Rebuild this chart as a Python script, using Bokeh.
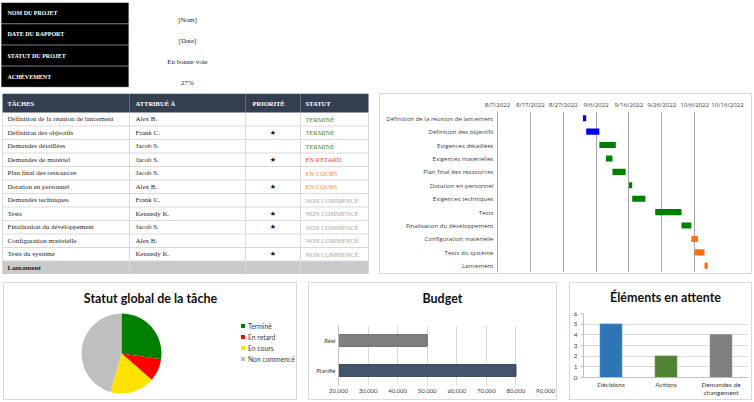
import numpy as np
import pandas as pd
from math import pi
from bokeh.plotting import figure
from bokeh.layouts import column, row
from bokeh.models import (ColumnDataSource, Range1d, FactorRange, FixedTicker, Spacer,
                          NumeralTickFormatter)
from bokeh.core.properties import value
from bokeh.embed import file_html
from bokeh.resources import INLINE

# ---------------- data ----------------
info_labels = ["NOM DU PROJET", "DATE DU RAPPORT", "STATUT DU PROJET", "ACHÈVEMENT"]
info_values = ["[Nom]", "[Date]", "En bonne voie", "27%"]

table_headers = ["TÂCHES", "ATTRIBUÉ À", "PRIORITÉ", "STATUT"]
tasks = ["Définition de la réunion de lancement", "Définition des objectifs",
         "Demandes détaillées", "Demandes de matériel", "Plan final des ressources",
         "Dotation en personnel", "Demandes techniques", "Tests",
         "Finalisation du développement", "Configuration matérielle",
         "Tests du système", "Lancement"]
assignees = ["Alex B.", "Frank C.", "Jacob S.", "Jacob S.", "Jacob S.", "Alex B.",
             "Frank C.", "Kennedy K.", "Jacob S.", "Alex B.", "Kennedy K.", ""]
priority = [False, True, False, True, False, True, False, True, True, False, True, False]
statuses = ["TERMINÉ", "TERMINÉ", "TERMINÉ", "EN RETARD", "EN COURS", "EN COURS",
            "NON COMMENCÉ", "NON COMMENCÉ", "NON COMMENCÉ", "NON COMMENCÉ",
            "NON COMMENCÉ", ""]

gantt_tasks = ["Définition de la réunion de lancement", "Définition des objectifs",
               "Exigences détaillées", "Exigences matérielles", "Plan final des ressources",
               "Dotation en personnel", "Exigences techniques", "Tests",
               "Finalisation du développement", "Configuration matérielle",
               "Tests du système", "Lancement"]
gantt_start = ["2022-09-02", "2022-09-03", "2022-09-07", "2022-09-09", "2022-09-11",
               "2022-09-16", "2022-09-17", "2022-09-24", "2022-10-02", "2022-10-05",
               "2022-10-06", "2022-10-09"]
gantt_days = [1, 4, 5, 2, 4, 1, 4, 8, 3, 2, 3, 1]
gantt_phase = [0, 0, 1, 1, 1, 1, 1, 1, 1, 2, 2, 2]
gantt_ticks = ["2022-08-07", "2022-08-17", "2022-08-27", "2022-09-06", "2022-09-16",
               "2022-09-26", "2022-10-06", "2022-10-16"]
gantt_tick_labels = ["8/7/2022", "8/17/2022", "8/27/2022", "9/6/2022", "9/16/2022",
                     "9/26/2022", "10/6/2022", "10/16/2022"]

pie_title = "Statut global de la tâche"
pie_labels = ["Terminé", "En retard", "En cours", "Non commencé"]
pie_counts = [3, 1, 2, 5]

budget_title = "Budget"
budget_categories = ["Planifié", "Réel"]
budget_values = [80000, 50000]
budget_ticks = [20000, 30000, 40000, 50000, 60000, 70000, 80000, 90000]

pending_title = "Éléments en attente"
pending_categories = ["Décisions", "Actions", "Demandes de\nchangement"]
pending_values = [5, 2, 4]
pending_ticks = [0, 1, 2, 3, 4, 5, 6]

# ---------------- styles ----------------
SERIF = "Liberation Serif"
SANS = "Open Sans"
CHART = "Lato"
BOX = "#d9d9d9"
status_colors = {"TERMINÉ": "#2f9134", "EN RETARD": "#f53b3b", "EN COURS": "#f0913c",
                 "NON COMMENCÉ": "#a6a6a6", "": "#a6a6a6"}
phase_palette = ["#0000f0", "#008000", "#ff6c14"]
pie_palette = ["#008000", "#ff0000", "#ffe300", "#bfbfbf"]
budget_palette = ["#44546a", "#7f7f7f"]
budget_lines = ["#2e3a4a", "#666666"]
pending_palette = ["#2e75b6", "#548235", "#7f7f7f"]


def canvas(w, h, xr, yr, **kw):
    p = figure(width=w, height=h, x_range=xr, y_range=yr, output_backend="svg",
               toolbar_location=None, x_axis_type=None, y_axis_type=None,
               min_border=0, **kw)
    p.outline_line_color = None
    return p


def boxed(content, w, h):
    """Surround a widget of size (w-2, h-2) with a 1px light-grey frame."""
    edge = {"background-color": BOX}
    return column(Spacer(width=w, height=1, styles=edge),
                  row(Spacer(width=1, height=h - 2, styles=edge), content,
                      Spacer(width=1, height=h - 2, styles=edge)),
                  Spacer(width=w, height=1, styles=edge))


def title_canvas(w, h, text, x, y):
    c = canvas(w, h, Range1d(0, w), Range1d(h, 0))
    c.text(x=x, y=y, text=[text], text_font=value(CHART), text_font_style="bold",
           text_font_size="12.5px", text_color="#111111", text_align="center",
           text_baseline="middle")
    return c


def style_axis(ax, size):
    ax.axis_line_color = "#bfbfbf"
    ax.major_tick_line_color = None
    ax.minor_tick_line_color = None
    ax.major_tick_out = 0
    ax.major_tick_in = 0
    ax.major_label_text_font = CHART
    ax.major_label_text_font_size = size
    ax.major_label_text_color = "#404040"
    ax.major_label_standoff = 3


# ---------------- info block ----------------
INFO_W, INFO_H = 378, 93
info = canvas(INFO_W, INFO_H, Range1d(0, INFO_W), Range1d(INFO_H, 0))
IN_TOP, IN_ROW = 2, 21.2
itop = IN_TOP + np.arange(len(info_labels)) * IN_ROW
info.quad(left=1, right=128, top=IN_TOP, bottom=itop[-1] + IN_ROW, fill_color="#7f7f7f",
          line_color=None)
info.quad(left=1, right=128, top=itop + 0.5, bottom=itop + IN_ROW - 0.5,
          fill_color="#000000", line_color=None)
info.text(x=7, y=itop + IN_ROW / 2, text=info_labels, text_font=value(SERIF),
          text_font_style="bold", text_font_size="6px", text_color="white",
          text_baseline="middle")
info.text(x=187, y=itop + IN_ROW / 2 + 6.5, text=info_values, text_font=value(SERIF),
          text_font_size="7px", text_color="#262626", text_baseline="middle",
          text_align="center")

# ---------------- task table ----------------
TAB_W, TAB_H = 378, 181
HDR_H, ROW_H = 19, 13.5
col_edges = [2, 129, 245, 300, 368]
hdr_x = [7, 135, 252, 305]
tab = canvas(TAB_W, TAB_H, Range1d(0, TAB_W), Range1d(TAB_H, 0))
n = len(tasks)
rtop = HDR_H + np.arange(n) * ROW_H
rmid = rtop + ROW_H / 2
tab.quad(left=col_edges[0], right=col_edges[-1], top=0, bottom=HDR_H,
         fill_color="#333f50", line_color=None)
milestone = [s == "" for s in statuses]
mt = [t for t, m in zip(rtop, milestone) if m]
tab.quad(left=col_edges[0], right=col_edges[-1], top=mt, bottom=[v + ROW_H for v in mt],
         fill_color="#c9c9c9", line_color=None)
tab.segment(x0=col_edges[1:-1], y0=0, x1=col_edges[1:-1], y1=HDR_H,
            line_color="#5d6a7c", line_width=1)
tab.segment(x0=col_edges, y0=HDR_H, x1=col_edges, y1=rtop[-1] + ROW_H,
            line_color=BOX, line_width=1)
tab.segment(x0=col_edges[0], y0=rtop[1:], x1=col_edges[-1], y1=rtop[1:],
            line_color=BOX, line_width=1)
tab.text(x=hdr_x, y=HDR_H / 2, text=table_headers, text_font=value(SERIF),
         text_font_style="bold", text_font_size="6.5px", text_color="white",
         text_baseline="middle")
tab.text(x=hdr_x[0], y=rmid, text=tasks, text_font=value(SERIF), text_font_size="7px",
         text_color="#262626", text_baseline="middle",
         text_font_style=["bold" if m else "normal" for m in milestone])
tab.text(x=hdr_x[1], y=rmid, text=assignees, text_font=value(SERIF), text_font_size="7px",
         text_color="#262626", text_baseline="middle")
tab.text(x=(col_edges[2] + col_edges[3]) / 2, y=rmid,
         text=["★" if pr else "" for pr in priority], text_font=value("DejaVu Sans"),
         text_font_size="7px", text_color="#111111", text_baseline="middle",
         text_align="center")
tab.text(x=hdr_x[3], y=rmid, text=statuses, text_font=value(SERIF), text_font_size="6.5px",
         text_color=[status_colors[s] for s in statuses], text_baseline="middle")

# ---------------- gantt ----------------
GW, GH = 373, 181
ms = pd.Timedelta("1ms")
epoch = pd.Timestamp("1970-01-01")
g_start = pd.to_datetime(gantt_start)
g_end = g_start + pd.to_timedelta(gantt_days, unit="D")
start_ms = ((g_start - epoch) // ms).tolist()
end_ms = ((g_end - epoch) // ms).tolist()
tick_ms = ((pd.to_datetime(gantt_ticks) - epoch) // ms).tolist()

g = figure(width=GW - 2, height=GH - 2, x_range=Range1d(tick_ms[0], tick_ms[-1]),
           y_range=FactorRange(factors=gantt_tasks[::-1]), x_axis_location="above",
           output_backend="svg", toolbar_location=None,
           min_border_left=117, min_border_right=24, min_border_top=17, min_border_bottom=1)
g.hbar(y=gantt_tasks, left=start_ms, right=end_ms, height=0.45,
       fill_color=[phase_palette[i] for i in gantt_phase], line_color=None)
g.outline_line_color = None
g.xaxis.ticker = FixedTicker(ticks=tick_ms)
g.xaxis.major_label_overrides = dict(zip(tick_ms, gantt_tick_labels))
for ax in (g.xaxis, g.yaxis):
    style_axis(ax, "6.1px")
    ax.major_label_text_font = SANS
g.xaxis.axis_line_color = None
g.yaxis.axis_line_color = "#a6a6a6"
g.yaxis.major_label_standoff = 4
g.xgrid.grid_line_color = "#a6a6a6"
g.ygrid.grid_line_color = None

# ---------------- pie ----------------
PW, PH = 294, 118
pw, ph = PW - 2, PH - 2
pie = canvas(pw, ph, Range1d(0, pw), Range1d(0, ph))
frac = np.array(pie_counts) / np.sum(pie_counts)
cum = np.concatenate([[0], np.cumsum(frac)])
src = ColumnDataSource(dict(label=pie_labels, start=pi / 2 - 2 * pi * cum[:-1],
                            end=pi / 2 - 2 * pi * cum[1:], color=pie_palette))
pie.wedge(x=117, y=46, radius=40, start_angle="start", end_angle="end", direction="clock",
          fill_color="color", line_color=None, legend_field="label", source=src)
pie.text(x=146, y=ph - 15, text=[pie_title], text_font=value(CHART),
         text_font_style="bold", text_font_size="12.5px", text_color="#111111",
         text_align="center", text_baseline="middle")
lg = pie.legend[0]
lg.location = (236, 36)
lg.glyph_width = 5
lg.glyph_height = 5
lg.label_height = 9
lg.label_standoff = 3
lg.spacing = 2
lg.padding = 0
lg.margin = 0
lg.border_line_color = None
lg.background_fill_alpha = 0
lg.label_text_font = CHART
lg.label_text_font_size = "6.8px"
lg.label_text_color = "#404040"

# ---------------- budget ----------------
BW, BH = 249, 118
bw, bh = BW - 2, BH - 2
BT = 30
bud = figure(width=bw, height=bh - BT, y_range=FactorRange(factors=budget_categories),
             x_range=Range1d(budget_ticks[0], budget_ticks[-1]),
             output_backend="svg", toolbar_location=None,
             min_border_left=29, min_border_right=11, min_border_top=12, min_border_bottom=14)
bud.hbar(y=budget_categories, left=budget_ticks[0], right=budget_values, height=0.39,
         fill_color=budget_palette, line_color=budget_lines, line_width=1)
bud.outline_line_color = None
bud.xaxis.ticker = FixedTicker(ticks=budget_ticks)
bud.xaxis.formatter = NumeralTickFormatter(format="0,0")
style_axis(bud.xaxis, "6px")
style_axis(bud.yaxis, "6px")
bud.xaxis.axis_line_color = None
bud.xgrid.grid_line_color = BOX
bud.ygrid.grid_line_color = None
bud_box = column(title_canvas(bw, BT, budget_title, 124, 15), bud)

# ---------------- pending items ----------------
EW, EH = 183, 118
ew, eh = EW - 2, EH - 2
ET = 24
el = figure(width=ew, height=eh - ET, x_range=FactorRange(factors=pending_categories),
            y_range=Range1d(pending_ticks[0], pending_ticks[-1]),
            output_backend="svg", toolbar_location=None,
            min_border_left=11, min_border_right=3, min_border_top=6, min_border_bottom=22)
el.vbar(x=pending_categories, top=pending_values, width=0.39, fill_color=pending_palette,
        line_color=pending_palette)
el.outline_line_color = None
el.yaxis.ticker = FixedTicker(ticks=pending_ticks)
style_axis(el.xaxis, "6.5px")
style_axis(el.yaxis, "6.5px")
el.yaxis.major_tick_line_color = "#bfbfbf"
el.yaxis.major_tick_out = 3
el.ygrid.grid_line_color = BOX
el.xgrid.grid_line_color = None
el_box = column(title_canvas(ew, ET, pending_title, 90, 14), el)

layout = column(
    row(column(info, tab),
        column(Spacer(width=374, height=93), row(Spacer(width=1, height=GH), boxed(g, GW, GH)))),
    Spacer(width=752, height=8),
    row(Spacer(width=3, height=PH), boxed(pie, PW, PH), Spacer(width=11, height=PH),
        boxed(bud_box, BW, BH), Spacer(width=12, height=PH), boxed(el_box, EW, EH)),
)

open("out.html", "w").write(file_html(layout, INLINE))
